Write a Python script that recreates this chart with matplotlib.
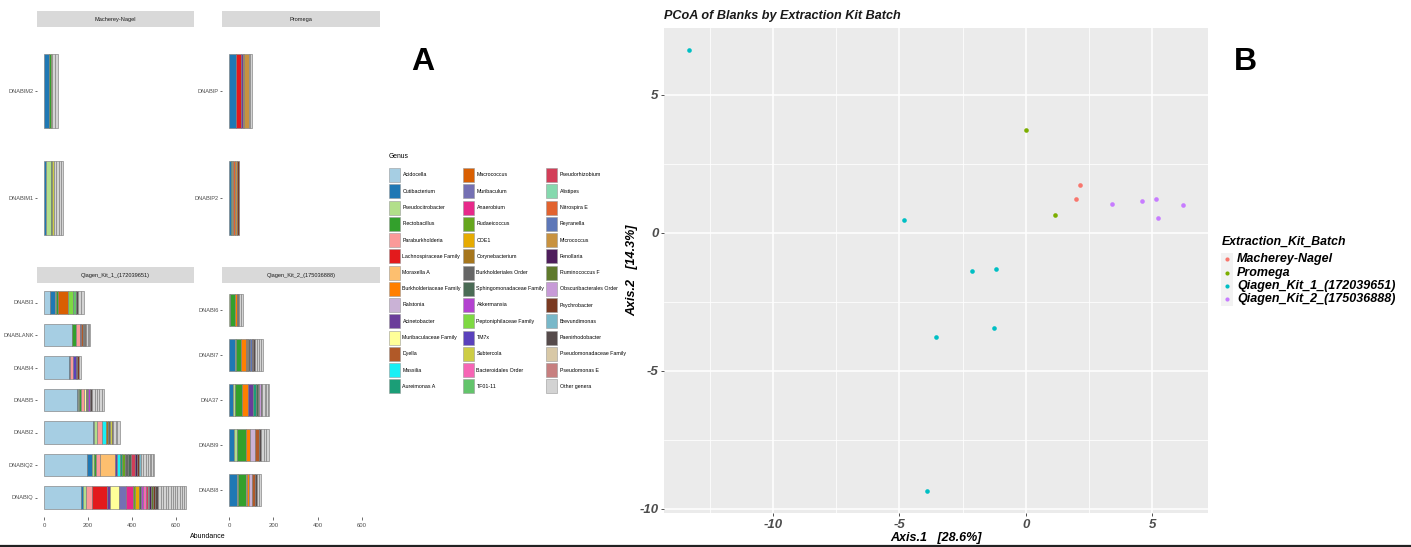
import matplotlib
matplotlib.use("Agg")
import matplotlib.pyplot as plt
from matplotlib import font_manager
from matplotlib.patches import Rectangle

plt.rcParams["axes.unicode_minus"] = False

# ── Canvas ────────────────────────────────────────────────────────────────────
W, H = 1411, 547

_names = {f.name for f in font_manager.fontManager.ttflist}
NARROW = "Liberation Sans Narrow" if "Liberation Sans Narrow" in _names else "Liberation Sans"
SMALL = 4.8 if NARROW == "Liberation Sans Narrow" else 4.05
LEG_FS = SMALL - 0.25

# ── Genus palette (legend order = stacking order) ─────────────────────────────
GENERA = [
    "Acidocella", "Cutibacterium", "Pseudocitrobacter", "Flectobacillus",
    "Paraburkholderia", "Lachnospiraceae Family", "Moraxella A",
    "Burkholderiaceae Family", "Ralstonia", "Acinetobacter",
    "Muribaculaceae Family", "Dyella", "Massilia", "Aureimonas A",
    "Macrococcus", "Muribaculum", "Anaerobium", "Rudaeicoccus", "COE1",
    "Corynebacterium", "Burkholderiales Order", "Sphingomonadaceae Family",
    "Akkermansia", "Peptoniphilaceae Family", "TM7x", "Subtercola",
    "Bacteroidales Order", "TF01-11",
    "Pseudorhizobium", "Alistipes", "Nitrospira E", "Reyranella", "Micrococcus",
    "Fenollaria", "Ruminococcus F", "Obscuribacterales Order", "Psychrobacter",
    "Brevundimonas", "Paenirhodobacter", "Pseudomonadaceae Family",
    "Pseudomonas E", "Other genera",
]
GENUS_COLORS = [
    "#A6CEE3", "#1F78B4", "#B2DF8A", "#33A02C", "#FB9A99", "#E31A1C", "#FDBF6F",
    "#FF7F00", "#CAB2D6", "#6A3D9A", "#FFFF99", "#B15928", "#19F0F5", "#1B9E77",
    "#D95F02", "#7570B3", "#E7298A", "#66A61E", "#E6AB02", "#A6761D", "#666666",
    "#4A6B55", "#B342D0", "#7ED942", "#5A41BC", "#CDCD45", "#F665B5", "#63C46B",
    "#D33E58", "#85D9AE", "#E2632F", "#5D77B8", "#C8923F", "#4E1E5C", "#5F7A2C",
    "#C79AD7", "#7A3A22", "#78B8C9", "#564B4B", "#D8C8A6", "#C77F7F", "#D3D3D3",
]
COLOR_OF = dict(zip(GENERA, GENUS_COLORS))
OG = "Other genera"

# ── Per-sample abundances (segments left to right) ────────────────────────────
DNABIM2 = [("Cutibacterium", 24), ("Flectobacillus", 5), ("Subtercola", 9),
           (OG, 13), (OG, 12)]
DNABIM1 = [("Cutibacterium", 10), ("Pseudocitrobacter", 23), ("Flectobacillus", 5),
           ("Subtercola", 6), (OG, 12), (OG, 10), (OG, 10), (OG, 9)]
DNABIP = [("Cutibacterium", 33), ("Lachnospiraceae Family", 21), ("Acinetobacter", 8),
          ("COE1", 6), ("Micrococcus", 20), (OG, 8), (OG, 8)]
DNABIP2 = [("Cutibacterium", 6), ("Flectobacillus", 6), ("Subtercola", 6),
           ("Nitrospira E", 8), ("Micrococcus", 8), ("Psychrobacter", 11)]
DNABI3 = [("Acidocella", 28), ("Cutibacterium", 22), ("Pseudocitrobacter", 4),
          ("Flectobacillus", 8), ("Macrococcus", 45), ("Peptoniphilaceae Family", 23),
          ("TF01-11", 14), ("Paenirhodobacter", 8), (OG, 15), (OG, 13)]
DNABLANK = [("Acidocella", 125), ("Pseudocitrobacter", 4), ("Flectobacillus", 14),
            ("Paraburkholderia", 22), ("Acinetobacter", 5), ("Dyella", 6),
            ("Burkholderiales Order", 5), ("Sphingomonadaceae Family", 6),
            ("Psychrobacter", 5), (OG, 8), (OG, 6), (OG, 5)]
DNABI4 = [("Acidocella", 114), ("Cutibacterium", 5), ("Paraburkholderia", 14),
          ("TM7x", 10), ("Fenollaria", 8), ("Psychrobacter", 10), (OG, 9)]
DNABI5 = [("Acidocella", 149), ("Cutibacterium", 6), ("Pseudocitrobacter", 6),
          ("Flectobacillus", 8), ("Paraburkholderia", 14), ("Muribaculaceae Family", 6),
          ("Acinetobacter", 5), ("Rudaeicoccus", 6), ("Akkermansia", 10),
          ("Paenirhodobacter", 8), (OG, 14), (OG, 10), (OG, 10), (OG, 10), (OG, 10)]
DNABI2 = [("Acidocella", 223), ("Cutibacterium", 4), ("Pseudocitrobacter", 16),
          ("Paraburkholderia", 20), ("Massilia", 20), ("Corynebacterium", 10),
          ("Burkholderiales Order", 8), ("Subtercola", 8), ("Psychrobacter", 6),
          (OG, 10), (OG, 8), (OG, 11)]
DNABIQ2 = [("Acidocella", 194), ("Cutibacterium", 25), ("Pseudocitrobacter", 10),
           ("Flectobacillus", 9), ("Paraburkholderia", 15), ("Moraxella A", 68),
           ("Acinetobacter", 9), ("Massilia", 15), ("Aureimonas A", 9),
           ("Rudaeicoccus", 12), ("Burkholderiales Order", 15),
           ("Sphingomonadaceae Family", 14), ("Pseudorhizobium", 20), ("Fenollaria", 10),
           ("Psychrobacter", 8), ("Brevundimonas", 7),
           (OG, 12), (OG, 10), (OG, 10), (OG, 8), (OG, 8), (OG, 6), (OG, 6)]
DNABIQ = [("Acidocella", 170), ("Cutibacterium", 8), ("Pseudocitrobacter", 12),
          ("Paraburkholderia", 30), ("Lachnospiraceae Family", 68), ("Acinetobacter", 12),
          ("Muribaculaceae Family", 42), ("Muribaculum", 30), ("Anaerobium", 33),
          ("Rudaeicoccus", 10), ("COE1", 15), ("Sphingomonadaceae Family", 10),
          ("Akkermansia", 12), ("Bacteroidales Order", 10), ("Pseudorhizobium", 9),
          ("Alistipes", 8), ("Fenollaria", 8), ("Ruminococcus F", 8), ("Psychrobacter", 10),
          ("Paenirhodobacter", 12),
          (OG, 14), (OG, 12), (OG, 12), (OG, 11), (OG, 11), (OG, 10), (OG, 10),
          (OG, 10), (OG, 10), (OG, 10), (OG, 9), (OG, 9)]
DNABI6 = [("Pseudocitrobacter", 4), ("Flectobacillus", 22), ("Burkholderiaceae Family", 8),
          ("Psychrobacter", 6), ("Paenirhodobacter", 6), (OG, 8), (OG, 8)]
DNABI7 = [("Cutibacterium", 25), ("Pseudocitrobacter", 7), ("Flectobacillus", 23),
          ("Burkholderiaceae Family", 20), ("Dyella", 6), ("Corynebacterium", 6),
          ("Burkholderiales Order", 6), ("Reyranella", 8), ("Psychrobacter", 8),
          ("Paenirhodobacter", 6), (OG, 10), (OG, 10), (OG, 9), (OG, 8)]
DNA37 = [("Cutibacterium", 18), ("Pseudocitrobacter", 9), ("Flectobacillus", 33),
         ("Burkholderiaceae Family", 25), ("Acinetobacter", 25), ("Aureimonas A", 12),
         ("Sphingomonadaceae Family", 8), ("Ruminococcus F", 6),
         ("Obscuribacterales Order", 8), ("Paenirhodobacter", 6),
         (OG, 10), (OG, 8), (OG, 8), (OG, 6)]
DNABI9 = [("Cutibacterium", 22), ("Pseudocitrobacter", 13), ("Flectobacillus", 39),
          ("Burkholderiaceae Family", 18), ("Ralstonia", 27), ("Dyella", 18),
          ("Paenirhodobacter", 8), (OG, 12), (OG, 11), (OG, 10)]
DNABI8 = [("Cutibacterium", 36), ("Pseudocitrobacter", 4), ("Flectobacillus", 35),
          ("Moraxella A", 4), ("Burkholderiaceae Family", 12), ("Ralstonia", 12),
          ("Dyella", 15), ("Paenirhodobacter", 8), (OG, 9), (OG, 8)]

COMPOSITION = {
    "DNABIM2": DNABIM2, "DNABIM1": DNABIM1, "DNABIP": DNABIP, "DNABIP2": DNABIP2,
    "DNABI3": DNABI3, "DNABLANK": DNABLANK, "DNABI4": DNABI4, "DNABI5": DNABI5,
    "DNABI2": DNABI2, "DNABIQ2": DNABIQ2, "DNABIQ": DNABIQ,
    "DNABI6": DNABI6, "DNABI7": DNABI7, "DNA37": DNA37, "DNABI9": DNABI9,
    "DNABI8": DNABI8,
}

FACET_TITLES = ["Macherey-Nagel", "Promega",
                "Qiagen_Kit_1_(172039651)", "Qiagen_Kit_2_(175036888)"]
# samples per facet, listed top to bottom
FACET_SAMPLES = [
    ["DNABIM2", "DNABIM1"],
    ["DNABIP", "DNABIP2"],
    ["DNABI3", "DNABLANK", "DNABI4", "DNABI5", "DNABI2", "DNABIQ2", "DNABIQ"],
    ["DNABI6", "DNABI7", "DNA37", "DNABI9", "DNABI8"],
]
ABUND_TICKS = [0, 200, 400, 600]

# ── PCoA ordination of the blanks ─────────────────────────────────────────────
KIT_LEVELS = FACET_TITLES
KIT_COLORS = ["#F8766D", "#7CAE00", "#00BFC4", "#C77CFF"]
PC_KIT = (["Macherey-Nagel"] * 2 + ["Promega"] * 2
          + ["Qiagen_Kit_1_(172039651)"] * 7 + ["Qiagen_Kit_2_(175036888)"] * 5)
AXIS1 = [2.16, 2.00, 0.00, 1.16,
         -13.32, -4.80, -2.11, -1.19, -3.54, -1.25, -3.89,
         3.42, 4.60, 5.15, 5.24, 6.22]
AXIS2 = [1.74, 1.23, 3.73, 0.64,
         6.61, 0.47, -1.40, -1.32, -3.79, -3.44, -9.36,
         1.04, 1.14, 1.22, 0.53, 0.98]
PC_TICKS = [-10, -5, 0, 5]


def px_rect(x0, y0, x1, y1):
    """Pixel box (top-left origin) -> figure fraction rect."""
    return [x0 / W, 1 - y1 / H, (x1 - x0) / W, (y1 - y0) / H]


def draw_facet(ax, samples, show_x):
    n = len(samples)
    for i, name in enumerate(samples):
        ypos = n - i
        left = 0
        for genus, val in COMPOSITION[name]:
            ax.barh(ypos, val, left=left, height=0.7, color=COLOR_OF[genus],
                    edgecolor="#7F7F7F", linewidth=0.45)
            left += val
    ax.set_xlim(-32.5, 682.5)
    ax.set_ylim(0.4, n + 0.6)
    ax.set_yticks(range(n, 0, -1))
    ax.set_yticklabels(samples, fontfamily=NARROW)
    ax.tick_params(axis="y", length=1.5, width=0.5, color="#333333",
                   labelsize=SMALL, labelcolor="#4D4D4D", pad=1)
    if show_x:
        ax.set_xticks(ABUND_TICKS)
        ax.set_xticklabels([str(t) for t in ABUND_TICKS], fontfamily=NARROW)
        ax.tick_params(axis="x", length=2, width=0.5, color="#333333",
                       labelsize=SMALL + 0.3, labelcolor="#4D4D4D", pad=2.5)
    else:
        ax.set_xticks([])
    for s in ax.spines.values():
        s.set_visible(False)


fig = plt.figure(figsize=(W / 100, H / 100), dpi=100, facecolor="white")

# overlay in pixel coordinates for free-standing labels
ov = fig.add_axes([0, 0, 1, 1], zorder=5)
ov.set_xlim(0, W)
ov.set_ylim(H, 0)
ov.axis("off")

# ── A: stacked abundance facets ───────────────────────────────────────────────
cols = [(37, 194), (222, 380)]
rows = [(11, 27, 262), (267, 283, 517)]
for k, (title, samples) in enumerate(zip(FACET_TITLES, FACET_SAMPLES)):
    (x0, x1), (s0, p0, p1) = cols[k % 2], rows[k // 2]
    sax = fig.add_axes(px_rect(x0, s0, x1, p0))
    sax.set_facecolor("#D9D9D9")
    sax.set_xticks([])
    sax.set_yticks([])
    for s in sax.spines.values():
        s.set_visible(False)
    sax.text(0.5, 0.5, title, ha="center", va="center", fontsize=SMALL,
             color="#1A1A1A", fontfamily=NARROW, transform=sax.transAxes)
    ax = fig.add_axes(px_rect(x0, p0, x1, p1))
    draw_facet(ax, samples, show_x=(k >= 2))

ov.text(208, 537, "Abundance", ha="center", va="center", fontsize=SMALL + 1.0,
        fontfamily=NARROW, color="black")

# genus legend, three columns of fourteen
ov.text(389, 157, "Genus", ha="left", va="center", fontsize=SMALL + 0.8,
        fontfamily=NARROW, color="black")
leg_x = [389, 463, 546]
for i, (g, c) in enumerate(zip(GENERA, GENUS_COLORS)):
    kx = leg_x[i // 14]
    cy = 175 + (i % 14) * 16.25
    ov.add_patch(Rectangle((kx, cy - 7), 11, 14, facecolor=c,
                           edgecolor="#9A9A9A", linewidth=0.4))
    ov.text(kx + 13.5, cy, g, ha="left", va="center", fontsize=LEG_FS,
            fontfamily=NARROW, color="black")

ov.text(423, 62, "A", ha="center", va="center", fontsize=23,
        fontweight="heavy", fontfamily="Liberation Sans", color="black")

# ── B: PCoA scatter ───────────────────────────────────────────────────────────
pax = fig.add_axes(px_rect(664, 28, 1208, 513))
pax.set_facecolor("#EBEBEB")
for lvl, col in zip(KIT_LEVELS, KIT_COLORS):
    xs = [a for a, g in zip(AXIS1, PC_KIT) if g == lvl]
    ys = [b for b, g in zip(AXIS2, PC_KIT) if g == lvl]
    pax.scatter(xs, ys, s=11, color=col, linewidths=0, zorder=3)
pax.set_xlim(-14.3, 7.2)
pax.set_ylim(-10.16, 7.41)
pax.set_xticks(PC_TICKS)
pax.set_yticks(PC_TICKS)
pax.set_xticks([-12.5, -7.5, -2.5, 2.5], minor=True)
pax.set_yticks([-7.5, -2.5, 2.5], minor=True)
pax.grid(which="major", color="white", linewidth=1.1)
pax.grid(which="minor", color="white", linewidth=0.55)
pax.set_axisbelow(True)
pax.tick_params(which="minor", length=0)
pax.tick_params(which="major", length=2.5, width=0.6, color="#333333",
                labelcolor="#4D4D4D", labelsize=9.5, pad=1.5)
for lab in pax.get_xticklabels() + pax.get_yticklabels():
    lab.set_fontfamily("Liberation Sans")
    lab.set_fontweight("bold")
    lab.set_fontstyle("italic")
for s in pax.spines.values():
    s.set_visible(False)

bi = dict(fontfamily="Liberation Sans", fontweight="bold", fontstyle="italic")
ov.text(664, 16, "PCoA of Blanks by Extraction Kit Batch", ha="left", va="center",
        fontsize=9.1, color="#1A1A1A", **bi)
ov.text(936, 538, "Axis.1   [28.6%]", ha="center", va="center", fontsize=9,
        color="black", **bi)
ov.text(632, 270, "Axis.2   [14.3%]", ha="center", va="center", fontsize=9,
        rotation=90, color="black", **bi)

# kit legend
ov.text(1222, 242, "Extraction_Kit_Batch", ha="left", va="center", fontsize=8.8,
        color="black", **bi)
ov.add_patch(Rectangle((1221, 252.5), 12, 53.5, facecolor="#F2F2F2", linewidth=0))
for j, (lvl, col) in enumerate(zip(KIT_LEVELS, KIT_COLORS)):
    ly = 259.3 + j * 13.3
    ov.scatter([1227], [ly], s=9, color=col, linewidths=0)
    ov.text(1237, ly, lvl, ha="left", va="center", fontsize=9.0, color="black", **bi)

ov.text(1245, 62, "B", ha="center", va="center", fontsize=23,
        fontweight="heavy", fontfamily="Liberation Sans", color="black")

ov.plot([0, W], [545.5, 545.5], color="#222222", linewidth=1.6)

fig.savefig("out.png", dpi=100, facecolor="white")
